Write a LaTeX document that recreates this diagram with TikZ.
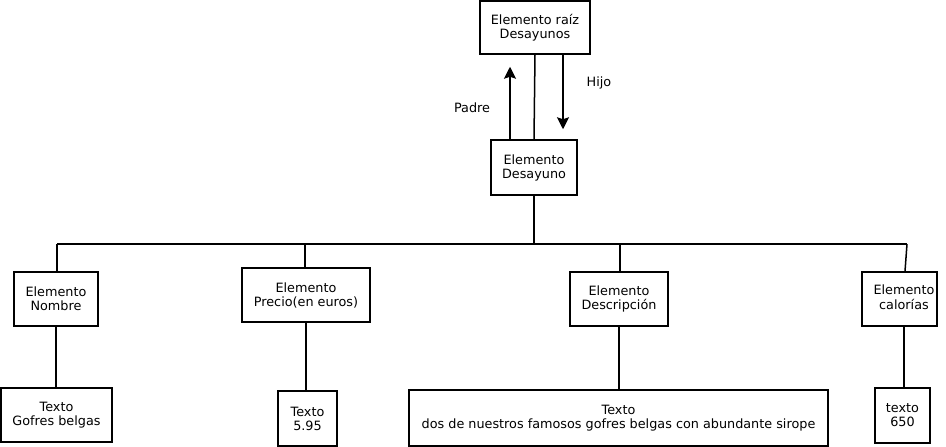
\documentclass[tikz,border=0pt]{standalone}
\usepackage{fontspec}
\setmainfont{DejaVu Sans}
\usetikzlibrary{arrows.meta}

\begin{document}
\begin{tikzpicture}[
    x=1pt, y=-1pt,
    caja/.style={rectangle, draw, line width=1.5pt, align=center, inner sep=0pt, font=\fontsize{12.8}{14}\selectfont},
    linea/.style={line width=1.5pt},
    flecha/.style={-{Stealth[length=12pt,width=12pt,inset=2pt]}, line width=1.5pt},
    etiqueta/.style={font=\fontsize{12.8}{14}\selectfont}
]
\useasboundingbox (0,0) rectangle (946,447);

% Raiz y elemento principal
\node[caja, minimum width=110, minimum height=53] (raiz) at (535,27.5) {Elemento raíz\\Desayunos};
\node[caja, minimum width=86, minimum height=55] (desayuno) at (534,167.5) {Elemento\\Desayuno};

% Elementos hijos
\node[caja, minimum width=84, minimum height=54] (nombre) at (56,299) {Elemento\\Nombre};
\node[caja, minimum width=128, minimum height=54] (precio) at (306,295) {Elemento\\Precio(en euros)};
\node[caja, minimum width=98, minimum height=54] (descripcion) at (619,299) {Elemento\\Descripción};
\node[caja, minimum width=75, minimum height=54] (calorias) at (899.5,299) {\hspace*{9pt}\begin{tabular}{@{}c@{}}Elemento\\calorías\end{tabular}};

% Textos
\node[caja, minimum width=111, minimum height=54] (tgofres) at (56.5,415) {Texto\\Gofres belgas};
\node[caja, minimum width=59, minimum height=55] (t595) at (307.5,418.5) {Texto\\5.95};
\node[caja, minimum width=419, minimum height=56] (tdesc) at (618.5,418) {Texto\\dos de nuestros famosos gofres belgas con abundante sirope};
\node[caja, minimum width=55, minimum height=55] (t650) at (902.5,415.5) {texto\\650};

% Padre / Hijo
\draw[linea] (raiz.south) -- (desayuno.north);
\draw[flecha, shorten >=12pt] ([xshift=-24pt]desayuno.north) -- ([xshift=-25pt]raiz.south);
\draw[flecha, shorten >=10pt] ([xshift=28pt]raiz.south) -- ([xshift=29pt]desayuno.north);
\node[etiqueta] (padre) at (472,108) {Padre};
\node[etiqueta] (hijo) at (599,83) {Hijo};

% Arbol
\coordinate (barra) at (535,244);
\draw[linea] (desayuno.south) -- (desayuno.south |- barra);
\draw[linea] ([xshift=1pt]nombre.north |- barra) -- ([xshift=7.5pt]calorias.north |- barra);
\draw[linea] ([xshift=1pt]nombre.north) -- ([xshift=1pt]nombre.north |- barra);
\draw[linea] ([xshift=-1pt]precio.north) -- ([xshift=-1pt]precio.north |- barra);
\draw[linea] ([xshift=1pt]descripcion.north) -- ([xshift=1pt]descripcion.north |- barra);
\draw[linea] ([xshift=5.5pt]calorias.north) -- ([xshift=7.5pt]calorias.north |- barra);

% Valores
\draw[linea] (nombre.south) -- (tgofres.north -| nombre.south);
\draw[linea] (precio.south) -- (t595.north -| precio.south);
\draw[linea] (descripcion.south) -- (tdesc.north -| descripcion.south);
\draw[linea] ([xshift=4.5pt]calorias.south) -- ([xshift=1.5pt]t650.north);

\end{tikzpicture}
\end{document}
